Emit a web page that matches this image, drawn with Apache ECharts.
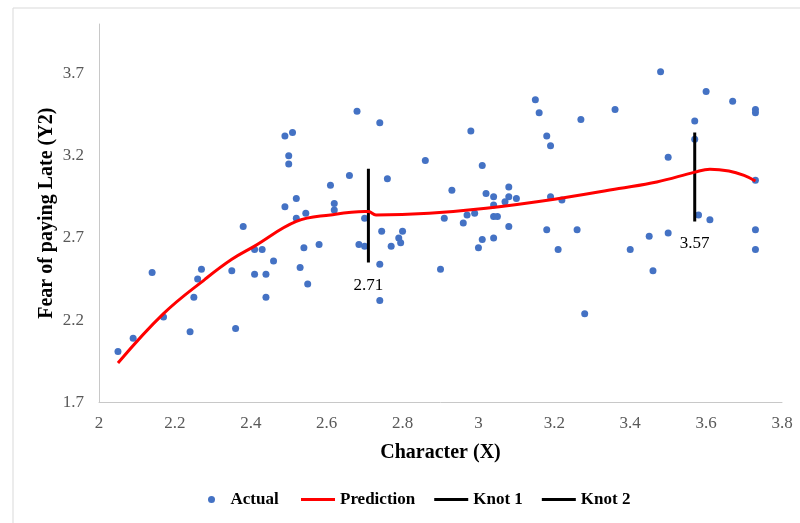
<!DOCTYPE html>
<html>
<head>
<meta charset="utf-8">
<script src="https://cdn.jsdelivr.net/npm/echarts@6/dist/echarts.min.js"></script>
<style>html,body{margin:0;padding:0;background:#fff;}#c{width:800px;height:523px;}</style>
</head>
<body>
<div id="c"></div>
<script>
const actualX = [2.05,2.09,2.14,2.17,2.24,2.25,2.26,2.27,2.35,2.36,2.38,2.41,2.41,2.43,2.44,2.44,2.46,2.49,2.52,2.52,2.54,2.53,2.545,2.55,
  2.68,2.74,2.49,2.51,2.50,2.50,2.86,2.66,2.76,2.61,2.62,2.62,2.70,2.745,2.80,2.79,2.795,2.77,2.685,2.70,2.58,2.74,2.74,
  3.15,3.16,3.36,3.27,2.98,3.18,3.19,3.01,2.93,3.08,3.02,3.04,3.08,3.10,3.07,3.04,3.19,3.22,2.99,2.97,3.04,3.05,2.91,2.96,3.08,3.18,3.26,3.01,3.04,3.00,3.21,2.90,3.28,
  3.48,3.60,3.67,3.73,3.73,3.57,3.57,3.50,3.73,3.58,3.61,3.50,3.45,3.73,3.40,3.73,3.46];
const actualY = [2.01,2.09,2.49,2.22,2.13,2.34,2.45,2.51,2.50,2.15,2.77,2.48,2.63,2.63,2.48,2.34,2.56,2.89,2.94,2.82,2.64,2.52,2.85,2.42,
  3.47,3.40,3.32,3.34,3.20,3.15,3.17,3.08,3.06,3.02,2.91,2.87,2.82,2.74,2.74,2.70,2.67,2.65,2.66,2.65,2.66,2.54,2.32,
  3.54,3.46,3.48,3.42,3.35,3.32,3.26,3.14,2.99,3.01,2.97,2.95,2.95,2.94,2.92,2.90,2.95,2.93,2.85,2.84,2.83,2.83,2.82,2.79,2.77,2.75,2.75,2.69,2.70,2.64,2.63,2.51,2.24,
  3.71,3.59,3.53,3.48,3.46,3.41,3.30,3.19,3.05,2.84,2.81,2.73,2.71,2.75,2.63,2.63,2.50];
const predX = [2.05,2.17,2.28,2.35,2.41,2.52,2.61,2.70,2.71,2.73,2.87,3.02,3.20,3.37,3.47,3.57,3.61,3.66,3.70,3.73];
const predY = [1.94,2.24,2.45,2.57,2.65,2.80,2.84,2.86,2.86,2.84,2.85,2.88,2.935,3.00,3.04,3.10,3.118,3.107,3.08,3.046];
const knot1X = 2.71, knot1Y = [2.55, 3.12], knot1Label = '2.71';
const knot2X = 3.57, knot2Y = [2.80, 3.34], knot2Label = '3.57';
const xTicks = {min: 2, max: 3.8, step: 0.2};
const yTicks = {min: 1.7, max: 4.0, step: 0.5};

const serif = '"Liberation Serif", "Times New Roman", serif';
const chart = echarts.init(document.getElementById('c'));
const knotSeries = (name, x, ys, lbl) => ({
  name, type: 'line', data: [[x, ys[0]], [x, ys[1]]],
  symbol: 'none', lineStyle: {color: '#000', width: 3}, itemStyle: {color: '#000'},
  z: 4, animation: false,
  markPoint: {
    symbol: 'circle', symbolSize: 0,
    data: [{coord: [x, ys[0]], value: lbl}],
    label: {show: true, position: 'bottom', distance: 14, formatter: lbl,
      fontFamily: serif, fontSize: 17, color: '#000'}
  }
});
chart.setOption({
  animation: false,
  backgroundColor: '#fff',
  graphic: [{type: 'rect', left: 10.5, top: 5.5, shape: {width: 800, height: 540},
    style: {fill: 'none', stroke: '#d9d9d9', lineWidth: 1}, silent: true}],
  grid: {left: 99, right: 18, top: 24, bottom: 120.5},
  xAxis: {
    type: 'value', min: xTicks.min, max: xTicks.max, interval: xTicks.step,
    name: 'Character (X)', nameLocation: 'middle', nameGap: 40,
    nameTextStyle: {fontFamily: serif, fontWeight: 'bold', fontSize: 20, color: '#000'},
    axisLine: {show: true, lineStyle: {color: '#c8c8c8', width: 1}},
    axisTick: {show: false}, splitLine: {show: false},
    axisLabel: {fontFamily: serif, fontSize: 17, color: '#595959', margin: 13,
      formatter: v => String(Number(v.toFixed(1)))}
  },
  yAxis: {
    type: 'value', min: yTicks.min, max: yTicks.max, interval: yTicks.step,
    name: 'Fear of paying Late (Y2)', nameLocation: 'middle', nameGap: 42, nameRotate: 90,
    nameMoveOverlap: false,
    nameTextStyle: {fontFamily: serif, fontWeight: 'bold', fontSize: 20, color: '#000'},
    axisLine: {show: true, lineStyle: {color: '#c8c8c8', width: 1}},
    axisTick: {show: false}, splitLine: {show: false},
    axisLabel: {fontFamily: serif, fontSize: 17, color: '#595959', margin: 15, showMaxLabel: false,
      formatter: v => v.toFixed(1)}
  },
  legend: [
    {data: [{name: 'Actual', icon: 'circle'}], left: 203, top: 486, itemWidth: 28, itemHeight: 7,
      textStyle: {fontFamily: serif, fontWeight: 'bold', fontSize: 17, color: '#000'}},
    {data: [{name: 'Prediction', icon: 'rect'}, {name: 'Knot 1', icon: 'rect'}, {name: 'Knot 2', icon: 'rect'}],
      left: 296, top: 486, itemWidth: 34, itemHeight: 3, itemGap: 19,
      textStyle: {fontFamily: serif, fontWeight: 'bold', fontSize: 17, color: '#000'}}
  ],
  series: [
    {name: 'Actual', type: 'scatter', data: actualX.map((x, i) => [x, actualY[i]]),
      symbolSize: 7, itemStyle: {color: '#4472C4', opacity: 1}, z: 3},
    {name: 'Prediction', type: 'line', data: predX.map((x, i) => [x, predY[i]]),
      smooth: 0.4, symbol: 'none', lineStyle: {color: '#ff0000', width: 3}, itemStyle: {color: '#ff0000'}, z: 5},
    knotSeries('Knot 1', knot1X, knot1Y, knot1Label),
    knotSeries('Knot 2', knot2X, knot2Y, knot2Label)
  ]
});
</script>
</body>
</html>
